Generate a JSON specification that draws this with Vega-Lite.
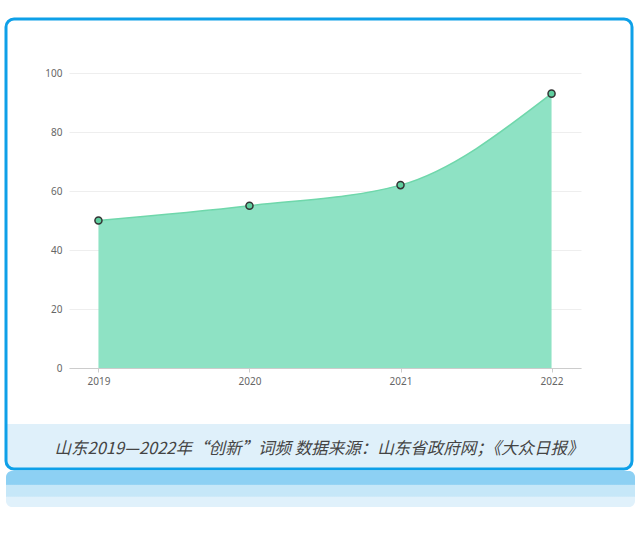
{
  "$schema": "https://vega.github.io/schema/vega-lite/v6.json",
  "background": "white",
  "padding": {"left": 4, "top": 17, "right": 0, "bottom": 0},
  "config": {
    "view": {"stroke": null},
    "font": "Noto Sans"
  },
  "align": "none",
  "spacing": -439,
  "vconcat": [
    {
      "align": "none",
      "spacing": 0,
      "vconcat": [
        {
          "width": 626,
          "height": 450,
          "view": {
            "fill": {
              "gradient": "linear",
              "x1": 0, "y1": 0, "x2": 0, "y2": 1,
              "stops": [
                {"offset": 0, "color": "#ffffff"},
                {"offset": 0.899, "color": "#ffffff"},
                {"offset": 0.9, "color": "#dff0fa"},
                {"offset": 1, "color": "#dff0fa"}
              ]
            },
            "stroke": "#0ea0e8",
            "strokeWidth": 3,
            "cornerRadius": 8
          },
          "title": {
            "text": "山东2019—2022年“创新”词频 数据来源：山东省政府网；《大众日报》",
            "orient": "bottom",
            "anchor": "middle",
            "offset": -28,
            "font": "Noto Sans CJK SC",
            "fontSize": 16.5,
            "fontStyle": "italic",
            "fontWeight": "normal",
            "color": "#444444"
          },
          "data": {"values": []},
          "mark": "text"
        },
        {
          "width": 629,
          "height": 36,
          "view": {
            "fill": {
              "gradient": "linear",
              "x1": 0, "y1": 0, "x2": 0, "y2": 1,
              "stops": [
                {"offset": 0, "color": "#8dd0f3"},
                {"offset": 0.37, "color": "#8dd0f3"},
                {"offset": 0.40, "color": "#c6e7f8"},
                {"offset": 0.70, "color": "#c6e7f8"},
                {"offset": 0.73, "color": "#e0f1fb"},
                {"offset": 1, "color": "#e0f1fb"}
              ]
            },
            "stroke": null,
            "cornerRadius": 6
          },
          "data": {"values": []},
          "mark": "text"
        }
      ]
    },
    {
      "spacing": 0,
      "hconcat": [
        {
          "width": 38,
          "height": 1,
          "data": {"values": []},
          "mark": "text"
        },
        {
          "width": 512,
          "height": 295,
          "data": {
            "values": [
              {"year": "2019", "value": 50},
              {"year": "2020", "value": 55},
              {"year": "2021", "value": 62},
              {"year": "2022", "value": 93}
            ]
          },
          "encoding": {
            "x": {
              "field": "year",
              "type": "ordinal",
              "scale": {"type": "point", "padding": 0.195},
              "axis": {
                "title": null,
                "labelAngle": 0,
                "domainColor": "#cccccc",
                "tickColor": "#cccccc",
                "tickSize": 4,
                "labelColor": "#666666",
                "labelFontSize": 10,
                "labelPadding": 4,
                "grid": false
              }
            },
            "y": {
              "field": "value",
              "type": "quantitative",
              "scale": {"domain": [0, 100]},
              "axis": {
                "title": null,
                "values": [0, 20, 40, 60, 80, 100],
                "grid": true,
                "gridColor": "#eeeeee",
                "domain": false,
                "ticks": false,
                "labelColor": "#666666",
                "labelFontSize": 10,
                "labelPadding": 7
              }
            }
          },
          "layer": [
            {
              "mark": {
                "type": "area",
                "interpolate": "monotone",
                "color": "#8ee2c4",
                "opacity": 1,
                "line": {"color": "#6fd7ab", "strokeWidth": 1.5}
              }
            },
            {
              "mark": {
                "type": "point",
                "filled": true,
                "fill": "#5fcf9f",
                "stroke": "#333333",
                "strokeWidth": 1.5,
                "size": 50,
                "opacity": 1
              }
            }
          ]
        }
      ]
    }
  ]
}
